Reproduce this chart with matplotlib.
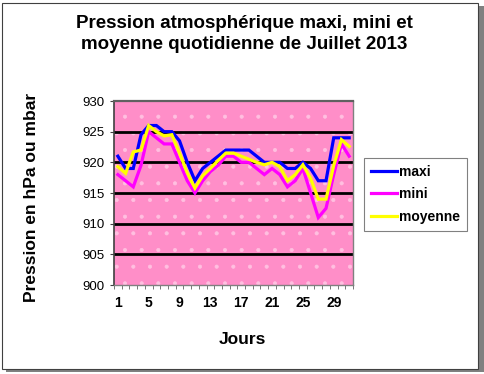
import matplotlib
matplotlib.use("Agg")
import matplotlib.pyplot as plt
from matplotlib.patches import Rectangle

plt.rcParams['font.family'] = ['Liberation Sans', 'DejaVu Sans']
plt.rcParams['hatch.linewidth'] = 0.5

days = list(range(1, 32))
maxi = [921, 919, 919, 924.5, 926, 926, 925, 925, 923.5, 920, 917, 919, 920, 921, 922, 922,
        922, 922, 921, 920, 920, 920, 919, 919, 920, 919, 917, 917, 924, 924, 924]
mini = [918, 917, 916, 919.5, 925, 924, 923, 923, 920, 917, 915, 917, 918.5, 919.5, 921, 921,
        920, 920, 919, 918, 919, 918, 916, 917, 919, 915, 911, 912.5, 918, 923, 921]
moyenne = [919.3, 918.2, 921.7, 922, 926, 925, 924.3, 924.5, 921.5, 918.3, 915.8, 917.8, 919, 920.3,
           921.5, 921.5, 921, 920.5, 920, 919.6, 920, 919.3, 917, 918, 919.6, 917.4, 914, 914,
           919.5, 923.7, 922.6]
series_names = ["maxi", "mini", "moyenne"]
series_colors = ["#0000FF", "#FF00FF", "#FFFF00"]
xtick_labels = [1, 5, 9, 13, 17, 21, 25, 29]
yticks = [900, 905, 910, 915, 920, 925, 930]

fig = plt.figure(figsize=(4.84, 3.74), dpi=100)
fig.patch.set_facecolor("white")

# outer frame with shadow
fig.patches.append(Rectangle((6/484, 1-372/374), 478/484, 366/374, transform=fig.transFigure,
                             facecolor="#808080", edgecolor="none", zorder=-2))
fig.patches.append(Rectangle((2/484, 1-369/374), 476/484, 366/374, transform=fig.transFigure,
                             facecolor="white", edgecolor="#404040", linewidth=0.8, zorder=-1))

ax = fig.add_axes([114/484, 1-285/374, (353-114)/484, (285-101)/374])
ax.set_zorder(1)
ax.set_facecolor("#FF8EC8")
ax.patch.set_hatch(".")
ax.patch.set_edgecolor("#FFC0E0")
ax.patch.set_linewidth(0)

for yv in yticks[1:-1]:
    ax.axhline(yv, color="black", linewidth=2.0, zorder=1)

for vals, name, col in zip([maxi, mini, moyenne], series_names, series_colors):
    ax.plot(days, vals, color=col, linewidth=2.3, label=name, zorder=3, solid_joinstyle="miter")

ax.set_xlim(0.5, 31.5)
ax.set_ylim(900, 930)
ax.set_yticks(yticks)
ax.set_yticklabels([str(v) for v in yticks], fontsize=9.5)
ax.set_xticks(xtick_labels)
ax.set_xticklabels([str(v) for v in xtick_labels], fontsize=10, fontweight="bold")
ax.set_xticks([0.5 + k for k in range(32)], minor=True)
ax.tick_params(axis="x", which="major", length=0, pad=8)
ax.tick_params(axis="x", which="minor", length=3, color="#606060", direction="out")
ax.tick_params(axis="y", which="major", length=3, color="#404040", direction="out", pad=4)

for s in ["top", "right", "bottom"]:
    ax.spines[s].set_color("#808080")
    ax.spines[s].set_linewidth(1.0)
ax.spines["top"].set_color("#606060")
ax.spines["top"].set_linewidth(1.6)
ax.spines["left"].set_color("#404040")
ax.spines["left"].set_linewidth(1.2)

fig.text(242/484, 1-339/374, "Jours", fontsize=12.5, fontweight="bold", ha="center", va="center")
fig.text(32/484, 1-197/374, "Pression en hPa ou mbar", rotation=90, fontsize=12.5,
         fontweight="bold", ha="center", va="center")

fig.text(244/484, 1-34/374, "Pression atmosphérique maxi, mini et\nmoyenne quotidienne de Juillet 2013",
         ha="center", va="center", fontsize=13.5, fontweight="bold", linespacing=1.35)

leg = fig.legend(loc="upper left", bbox_to_anchor=(364/484, 1-158/374),
                 prop={"weight": "bold", "size": 10}, frameon=True, fancybox=False,
                 handlelength=1.9, handletextpad=0.15, labelspacing=0.6, borderpad=0.5,
                 borderaxespad=0)
leg.get_frame().set_edgecolor("#606060")
leg.get_frame().set_linewidth(0.8)
for line in leg.get_lines():
    line.set_linewidth(2.3)

fig.savefig("out.png", dpi=100, facecolor="white")
